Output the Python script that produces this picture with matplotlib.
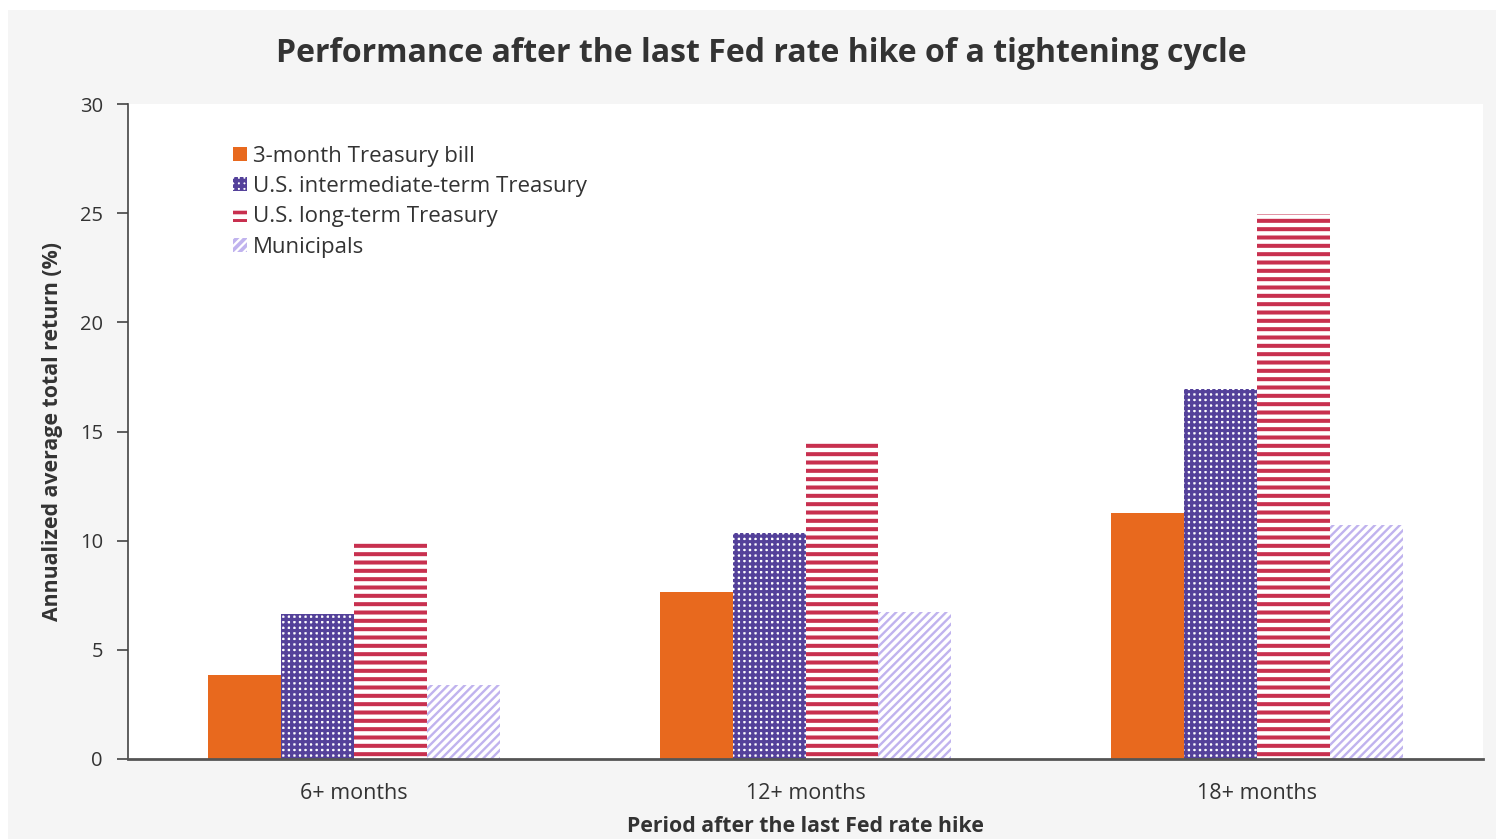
import matplotlib.pyplot as plt
import numpy as np
from matplotlib.patches import Rectangle

# Data
periods = ['6+ months', '12+ months', '18+ months']
series_names = ['3-month Treasury bill', 'U.S. intermediate-term Treasury',
                'U.S. long-term Treasury', 'Municipals']
tbill = [3.85, 7.65, 11.27]
intermediate = [6.64, 10.35, 16.95]
long_term = [9.94, 14.6, 24.96]
municipals = [3.39, 6.73, 10.72]

plt.rcParams['font.family'] = ['Open Sans', 'DejaVu Sans']
plt.rcParams['hatch.linewidth'] = 2.6

fig = plt.figure(figsize=(14.96, 8.39), dpi=100)
fig.patch.set_facecolor('white')
# gray panel behind everything
fig.add_artist(Rectangle((8 / 1496, 0), 1 - 8 / 1496, 1 - 10 / 839,
                         transform=fig.transFigure, facecolor='#f5f5f5',
                         edgecolor='none', zorder=-10))

ax = fig.add_axes([128 / 1496, 1 - 759 / 839, 1355 / 1496, 655 / 839])
ax.set_facecolor('white')

x = np.arange(len(periods))
w = 0.1615
styles = [
    dict(color='#e8691e', hatch=None, edge='#e8691e', hlw=None),
    dict(color='white', hatch='+++', edge='#54419a', hlw=2.3),
    dict(color='white', hatch='--', edge='#c8304f', hlw=2.9),
    dict(color='white', hatch='////', edge='#c0b3ee', hlw=1.7),
]
data = [tbill, intermediate, long_term, municipals]
for i, (vals, st, name) in enumerate(zip(data, styles, series_names)):
    bars = ax.bar(x + (i - 1.5) * w, vals, w, color=st['color'], label=name,
                  linewidth=0)
    if st['hatch']:
        for b in bars:
            b.set_hatch(st['hatch'])
            b.set_edgecolor(st['edge'])
            b.set_linewidth(0)
            if hasattr(b, 'set_hatch_linewidth'):
                b.set_hatch_linewidth(st['hlw'])

ax.set_xlim(-0.5, 2.5)
ax.set_ylim(0, 30)
ax.set_yticks([0, 5, 10, 15, 20, 25, 30])
ax.set_xticks(x)
ax.set_xticklabels(periods)
ax.tick_params(axis='y', length=8, width=1.2, color='#444444', labelsize=14.5,
               labelcolor='#333333', pad=10)
ax.tick_params(axis='x', length=0, labelsize=15.5, labelcolor='#333333', pad=17)
for s in ['top', 'right']:
    ax.spines[s].set_visible(False)
ax.spines['left'].set_color('#444444')
ax.spines['left'].set_linewidth(1.2)
ax.spines['bottom'].set_color('#555555')
ax.spines['bottom'].set_linewidth(2)

ax.set_ylabel('Annualized average total return (%)', fontsize=15.3,
              fontweight='bold', color='#333333', labelpad=12)
ax.set_xlabel('Period after the last Fed rate hike', fontsize=15.3,
              fontweight='bold', color='#333333', labelpad=9)
fig.text(761 / 1496, 1 - 54 / 839,
         'Performance after the last Fed rate hike of a tightening cycle',
         ha='center', va='center', fontsize=23, fontweight='bold',
         color='#333333')

leg = ax.legend(loc='upper left', bbox_to_anchor=(0.063, 0.967), frameon=False,
                fontsize=16, handlelength=0.6, handleheight=0.6,
                handletextpad=0.3, labelspacing=0.42, labelcolor='#333333')

fig.savefig('out.png', dpi=100)
